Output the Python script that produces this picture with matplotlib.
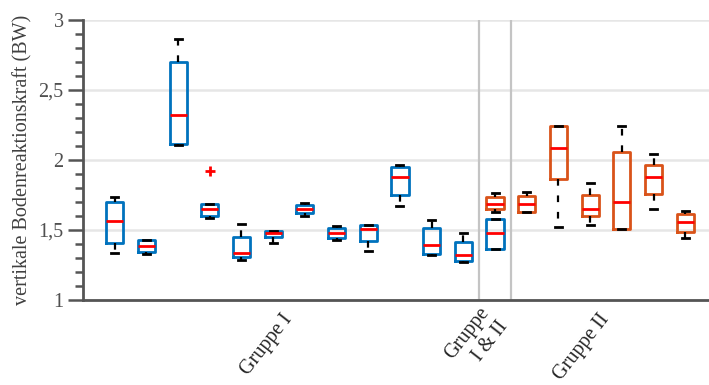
import matplotlib
matplotlib.use("Agg")
import matplotlib.pyplot as plt
from matplotlib.ticker import MultipleLocator

plt.rcParams['font.family'] = ['Liberation Serif', 'DejaVu Serif']

# Group I (1-12) and the blue box of "Gruppe I & II" (13)
blue_whishi = [1.739, 1.426, 2.862, 1.686, 1.543, 1.495, 1.695, 1.529, 1.533, 1.964, 1.571, 1.479, 1.576]
blue_q3     = [1.698, 1.426, 2.698, 1.686, 1.448, 1.495, 1.678, 1.512, 1.533, 1.952, 1.512, 1.416, 1.576]
blue_med    = [1.566, 1.388, 2.319, 1.648, 1.338, 1.476, 1.648, 1.476, 1.505, 1.881, 1.395, 1.322, 1.481]
blue_q1     = [1.405, 1.345, 2.114, 1.602, 1.305, 1.448, 1.618, 1.441, 1.419, 1.750, 1.329, 1.281, 1.366]
blue_whislo = [1.333, 1.326, 2.110, 1.583, 1.286, 1.409, 1.602, 1.429, 1.350, 1.671, 1.319, 1.271, 1.366]
blue_fliers = [[], [], [], [1.921], [], [], [], [], [], [], [], [], []]

# Orange box of "Gruppe I & II" (13) and Group II (14-19)
orange_whishi = [1.767, 1.774, 2.245, 1.838, 2.240, 2.043, 1.633]
orange_q3     = [1.736, 1.743, 2.240, 1.750, 2.060, 1.964, 1.614]
orange_med    = [1.688, 1.688, 2.083, 1.652, 1.700, 1.879, 1.557]
orange_q1     = [1.648, 1.630, 1.864, 1.598, 1.507, 1.755, 1.483]
orange_whislo = [1.629, 1.628, 1.521, 1.536, 1.507, 1.650, 1.445]

group_labels = ["Gruppe I", "Gruppe\nI & II", "Gruppe II"]
group_ticks = [6.5, 13, 16.5]
separators = [12.5, 13.5]

BLUE = "#0072BD"
ORANGE = "#D95319"
AXIS = "#555555"

fig = plt.figure(figsize=(7.09, 3.85), dpi=100)
ax = fig.add_axes([83 / 709, 85 / 385, 626 / 709, 280 / 385])


def stats(whishi, q3, med, q1, whislo, fliers=None):
    out = []
    for i in range(len(med)):
        out.append(dict(whishi=whishi[i], q3=q3[i], med=med[i], q1=q1[i],
                        whislo=whislo[i],
                        fliers=(fliers[i] if fliers else [])))
    return out


def draw(st, positions, color):
    ax.bxp(st, positions=positions, widths=0.54, capwidths=0.22,
           showfliers=True, patch_artist=False,
           boxprops=dict(color=color, linewidth=2.0),
           medianprops=dict(color="#FF0000", linewidth=2.0),
           whiskerprops=dict(color="black", linewidth=1.6,
                             linestyle=(0, (3.0, 4.4))),
           capprops=dict(color="black", linewidth=2.0),
           flierprops=dict(marker="+", markeredgecolor="#FF0000",
                           markersize=7, markeredgewidth=2.0),
           manage_ticks=False, zorder=3)


draw(stats(blue_whishi, blue_q3, blue_med, blue_q1, blue_whislo, blue_fliers),
     list(range(1, 14)), BLUE)
draw(stats(orange_whishi, orange_q3, orange_med, orange_q1, orange_whislo),
     list(range(13, 20)), ORANGE)

for xs in separators:
    ax.axvline(xs, color="#C4C4C4", linewidth=1.6, zorder=1)

ax.set_xlim(0.0, 19.75)
ax.set_ylim(1, 3)

ax.yaxis.set_major_locator(MultipleLocator(0.5))
ax.yaxis.set_minor_locator(MultipleLocator(0.1))
ax.set_yticks([1, 1.5, 2, 2.5, 3])
ax.set_yticklabels(["1", "1,5", "2", "2,5", "3"])
ax.grid(axis="y", which="major", color="#E6E6E6", linewidth=1.8, zorder=0)
ax.set_axisbelow(True)

ax.tick_params(axis="y", which="major", length=11, width=1.8, color=AXIS,
               labelsize=14.5, labelcolor="#505050", pad=3)
ax.tick_params(axis="y", which="minor", length=6, width=1.8, color=AXIS)

ax.set_xticks(group_ticks)
ax.set_xticklabels(group_labels, rotation=52, ha="right", va="center",
                   rotation_mode="anchor", fontsize=14.5, color="#262626",
                   multialignment="right", linespacing=1.3)
ax.tick_params(axis="x", length=0, pad=12)

for side in ("top", "right"):
    ax.spines[side].set_visible(False)
for side in ("left", "bottom"):
    ax.spines[side].set_color(AXIS)
    ax.spines[side].set_linewidth(2.0)

ax.set_ylabel("vertikale Bodenreaktionskraft (BW)", fontsize=14.5,
              color="#404040", labelpad=4)

fig.savefig("out.png", dpi=100)
